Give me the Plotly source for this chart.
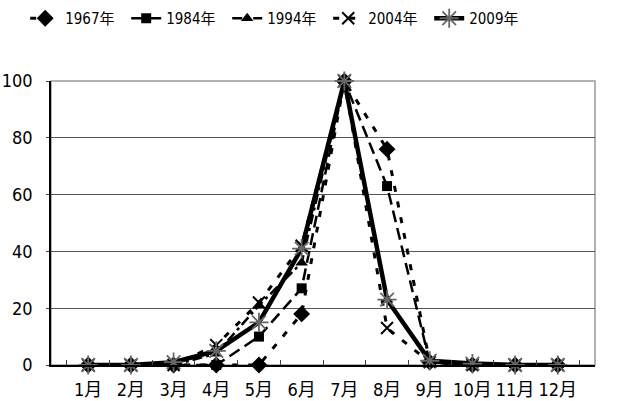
import plotly.graph_objects as go

months = ["1月", "2月", "3月", "4月", "5月", "6月", "7月", "8月", "9月", "10月", "11月", "12月"]

y1967 = [0, 0, 0, 0, 0, 18, 100, 76, 1, 0, 0, 0]
y1984 = [0, 0, 0, 0, 10, 27, 100, 63, 1, 0, 0, 0]
y1994 = [0, 0, 0, 4, 21, 36, 100, 23, 1, 0, 0, 0]
y2004 = [0, 0, 0, 7, 22, 42, 100, 13, 1, 0, 0, 0]
y2009 = [0, 0, 1, 5, 15, 41, 100, 23, 1.5, 0.5, 0, 0]

FONT = "DejaVu Sans Condensed, Liberation Sans Narrow, Noto Sans CJK JP, sans-serif"

series = [
    dict(name="1967年", y=y1967, dash="6px,10px", width=3,
         marker=dict(symbol="diamond", size=13, color="black")),
    dict(name="1984年", y=y1984, dash="12px,6px", width=2.5,
         marker=dict(symbol="square", size=10, color="black")),
    dict(name="1994年", y=y1994, dash="10px,4px,3px,4px", width=2.5,
         marker=dict(symbol="triangle-up", size=11, color="black")),
    dict(name="2004年", y=y2004, dash="6px,10px", width=3,
         marker=dict(symbol="x-thin-open", size=12, color="black",
                     line=dict(color="black", width=2))),
    dict(name="2009年", y=y2009, dash="solid", width=4.5,
         marker=dict(symbol="asterisk-open", size=16, color="#666666",
                     line=dict(color="#666666", width=1.8))),
]

fig = go.Figure()
for s in series:
    fig.add_trace(go.Scatter(
        x=months, y=s["y"], name=s["name"], mode="lines+markers",
        line=dict(color="black", width=s["width"], dash=s["dash"]),
        marker=s["marker"], cliponaxis=False,
    ))

# plot-area frame (grey top/right edges)
fig.add_shape(type="rect", xref="paper", yref="paper", x0=0, y0=0, x1=1, y1=1,
              line=dict(color="#999999", width=1.5), layer="below")

fig.update_layout(
    width=630, height=401,
    margin=dict(l=51, r=35, t=81, b=36, autoexpand=False),
    paper_bgcolor="white", plot_bgcolor="white",
    font=dict(family=FONT, color="black", size=17),
    showlegend=True,
    legend=dict(orientation="h", x=0.04, xref="container", y=0.995, yref="container",
                xanchor="left", yanchor="top",
                entrywidth=56, entrywidthmode="pixels",
                font=dict(size=15, family=FONT), itemsizing="trace",
                bgcolor="rgba(0,0,0,0)"),
    xaxis=dict(
        showline=True, linecolor="black", linewidth=1.5, automargin=False,
        showgrid=False, ticks="inside", tickson="boundaries", ticklen=5,
        tickcolor="#444444", ticklabelstandoff=8, tickangle=0,
        tickfont=dict(size=18, family=FONT),
    ),
    yaxis=dict(
        range=[0, 100], tickvals=[0, 20, 40, 60, 80, 100], automargin=False,
        showline=True, linecolor="black", linewidth=1.5,
        showgrid=True, gridcolor="#555555", gridwidth=1,
        ticks="outside", ticklen=3, tickcolor="#444444",
        ticklabelstandoff=10, zeroline=False,
        tickfont=dict(size=18, family=FONT),
    ),
)

fig.write_html("out.html")
